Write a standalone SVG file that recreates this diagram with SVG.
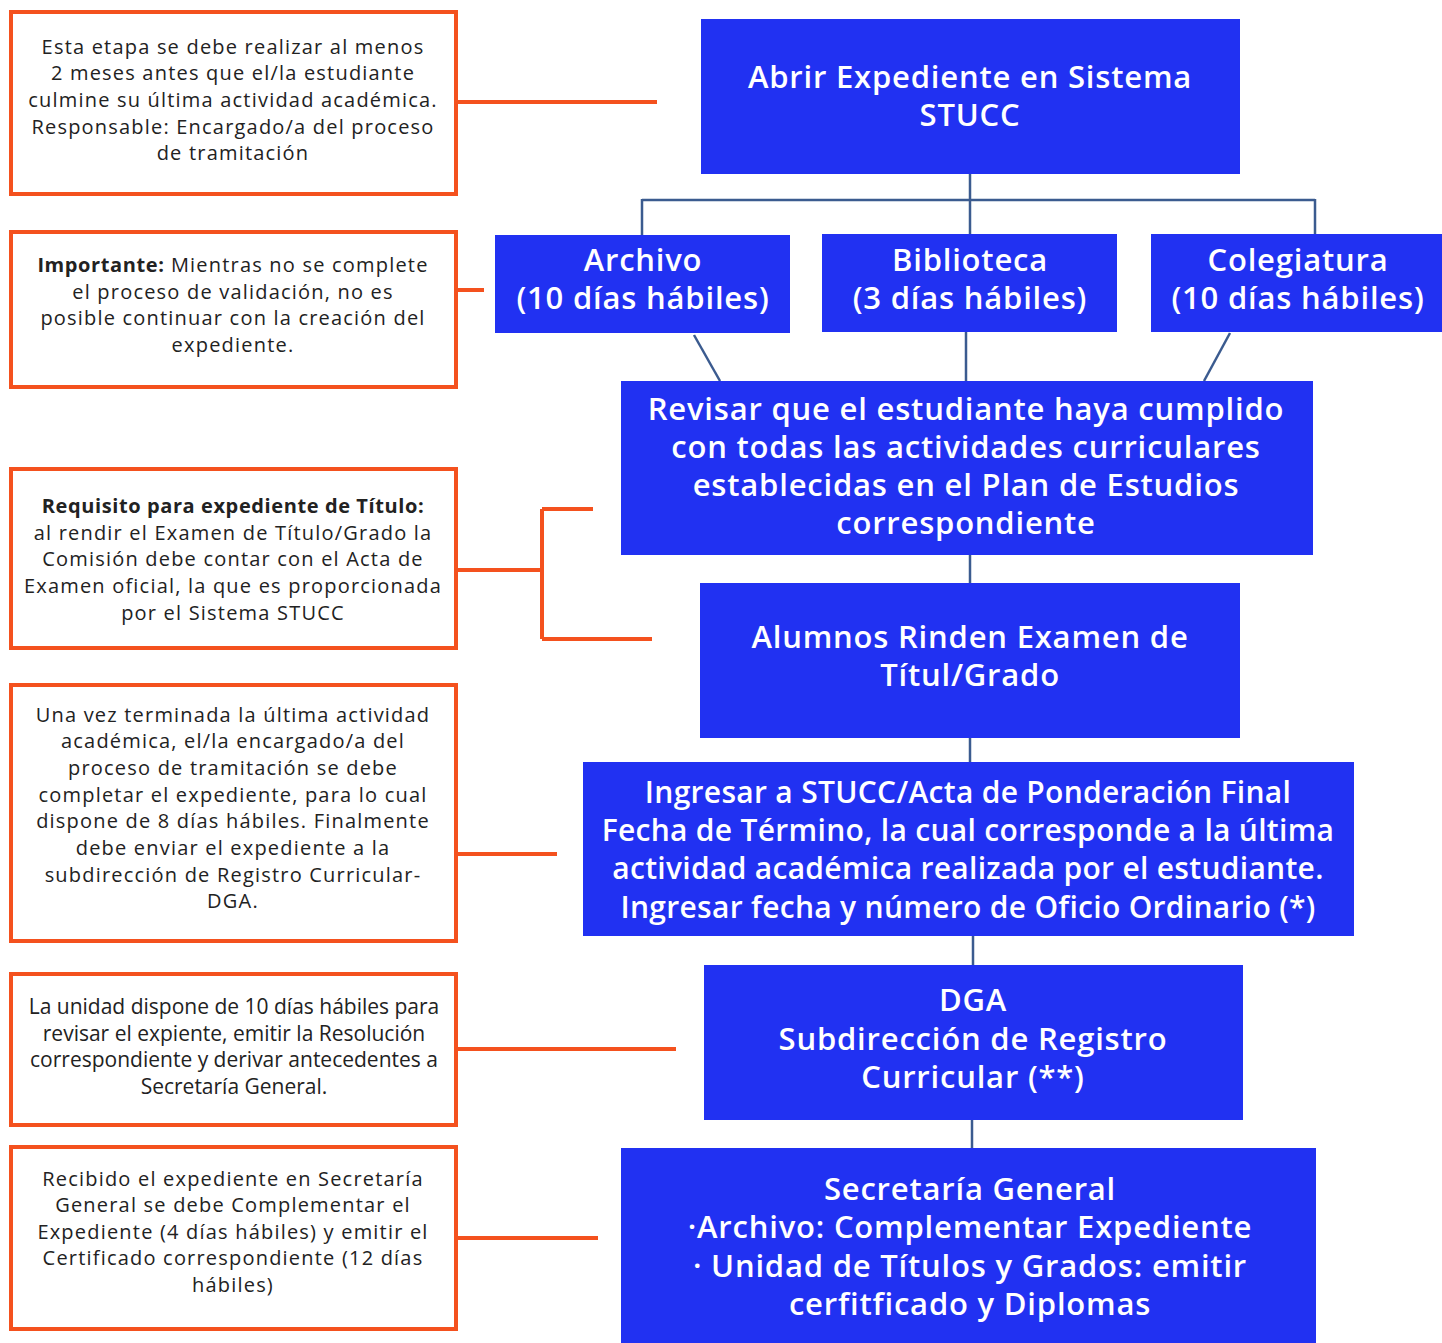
<svg xmlns="http://www.w3.org/2000/svg" width="1442" height="1343" viewBox="0 0 1442 1343">
<style>
.note{fill:#fff;stroke:#F4511E;stroke-width:4}
.nt{font-family:"Open Sans","Liberation Sans",sans-serif;font-size:20px;letter-spacing:1.2px;fill:#222;text-anchor:middle}
.nt .b{font-weight:700;letter-spacing:0.6px}
.nt5{font-family:"Open Sans","Liberation Sans",sans-serif;font-size:21px;letter-spacing:0px;fill:#222;text-anchor:middle}
.node{fill:#2131F2}
.ntx{font-family:"Open Sans","Liberation Sans",sans-serif;font-size:31px;font-weight:600;letter-spacing:0.8px;fill:#fff;text-anchor:middle}
.ntx7{font-family:"Open Sans","Liberation Sans",sans-serif;font-size:30px;font-weight:600;letter-spacing:0.3px;fill:#fff;text-anchor:middle}
.oc{stroke:#F4511E;stroke-width:4;fill:none}
.bc{stroke:#3B5B8F;stroke-width:2.5;fill:none}
</style>
<rect width="1442" height="1343" fill="#fff"/>
<g id="connectors">
<path class="oc" d="M457 102H657"/>
<path class="oc" d="M457 290H484"/>
<path class="oc" d="M457 570H542M542 509V639M542 509H593M542 639H652"/>
<path class="oc" d="M457 854H557"/>
<path class="oc" d="M457 1049H676"/>
<path class="oc" d="M457 1238H598"/>
<path class="bc" d="M970 174V200M642 200H1315M642 199V235M970 200V234M1315 199V234"/>
<path class="bc" d="M694 335L720 381"/>
<path class="bc" d="M966 332V381"/>
<path class="bc" d="M1230 333L1204 381"/>
<path class="bc" d="M970 555V583"/>
<path class="bc" d="M970 738V762"/>
<path class="bc" d="M973 936V965"/>
<path class="bc" d="M972 1120V1148"/>
</g>
<g id="note1">
<rect class="note" x="11" y="12" width="445" height="182"/>
<text class="nt"><tspan x="233" y="54">Esta etapa se debe realizar al menos</tspan><tspan x="233" y="80">2 meses antes que el/la estudiante</tspan><tspan x="233" y="107">culmine su última actividad académica.</tspan><tspan x="233" y="134">Responsable: Encargado/a del proceso</tspan><tspan x="233" y="160">de tramitación</tspan></text>
</g>
<g id="note2">
<rect class="note" x="11" y="232" width="445" height="155"/>
<text class="nt"><tspan x="233" y="272"><tspan class="b">Importante:</tspan> Mientras no se complete</tspan><tspan x="233" y="299">el proceso de validación, no es</tspan><tspan x="233" y="325">posible continuar con la creación del</tspan><tspan x="233" y="352">expediente.</tspan></text>
</g>
<g id="note3">
<rect class="note" x="11" y="469" width="445" height="179"/>
<text class="nt"><tspan x="233" y="513" class="b">Requisito para expediente de Título:</tspan><tspan x="233" y="540">al rendir el Examen de Título/Grado la</tspan><tspan x="233" y="566">Comisión debe contar con el Acta de</tspan><tspan x="233" y="593">Examen oficial, la que es proporcionada</tspan><tspan x="233" y="620">por el Sistema STUCC</tspan></text>
</g>
<g id="note4">
<rect class="note" x="11" y="685" width="445" height="256"/>
<text class="nt"><tspan x="233" y="722">Una vez terminada la última actividad</tspan><tspan x="233" y="748">académica, el/la encargado/a del</tspan><tspan x="233" y="775">proceso de tramitación se debe</tspan><tspan x="233" y="802">completar el expediente, para lo cual</tspan><tspan x="233" y="828">dispone de 8 días hábiles. Finalmente</tspan><tspan x="233" y="855">debe enviar el expediente a la</tspan><tspan x="233" y="882">subdirección de Registro Curricular-</tspan><tspan x="233" y="908">DGA.</tspan></text>
</g>
<g id="note5">
<rect class="note" x="11" y="974" width="445" height="151"/>
<text class="nt5"><tspan x="234" y="1014">La unidad dispone de 10 días hábiles para</tspan><tspan x="234" y="1041">revisar el expiente, emitir la Resolución</tspan><tspan x="234" y="1067">correspondiente y derivar antecedentes a</tspan><tspan x="234" y="1094">Secretaría General.</tspan></text>
</g>
<g id="note6">
<rect class="note" x="11" y="1147" width="445" height="182"/>
<text class="nt"><tspan x="233" y="1186">Recibido el expediente en Secretaría</tspan><tspan x="233" y="1212">General se debe Complementar el</tspan><tspan x="233" y="1239">Expediente (4 días hábiles) y emitir el</tspan><tspan x="233" y="1265">Certificado correspondiente (12 días</tspan><tspan x="233" y="1292">hábiles)</tspan></text>
</g>
<g id="n1">
<rect class="node" x="701" y="19" width="539" height="155"/>
<text class="ntx"><tspan x="970" y="88">Abrir Expediente en Sistema</tspan><tspan x="970" y="126">STUCC</tspan></text>
</g>
<g id="n2">
<rect class="node" x="495" y="235" width="295" height="98"/>
<text class="ntx"><tspan x="643" y="271">Archivo</tspan><tspan x="643" y="309">(10 días hábiles)</tspan></text>
</g>
<g id="n3">
<rect class="node" x="822" y="234" width="295" height="98"/>
<text class="ntx"><tspan x="970" y="271">Biblioteca</tspan><tspan x="970" y="309">(3 días hábiles)</tspan></text>
</g>
<g id="n4">
<rect class="node" x="1151" y="234" width="291" height="98"/>
<text class="ntx"><tspan x="1298" y="271">Colegiatura</tspan><tspan x="1298" y="309">(10 días hábiles)</tspan></text>
</g>
<g id="n5">
<rect class="node" x="621" y="381" width="692" height="174"/>
<text class="ntx"><tspan x="966" y="420">Revisar que el estudiante haya cumplido</tspan><tspan x="966" y="458">con todas las actividades curriculares</tspan><tspan x="966" y="496">establecidas en el Plan de Estudios</tspan><tspan x="966" y="534">correspondiente</tspan></text>
</g>
<g id="n6">
<rect class="node" x="700" y="583" width="540" height="155"/>
<text class="ntx"><tspan x="970" y="648">Alumnos Rinden Examen de</tspan><tspan x="970" y="686">Títul/Grado</tspan></text>
</g>
<g id="n7">
<rect class="node" x="583" y="762" width="771" height="174"/>
<text class="ntx7"><tspan x="968" y="803">Ingresar a STUCC/Acta de Ponderación Final</tspan><tspan x="968" y="841">Fecha de Término, la cual corresponde a la última</tspan><tspan x="968" y="879">actividad académica realizada por el estudiante.</tspan><tspan x="968" y="918">Ingresar fecha y número de Oficio Ordinario (*)</tspan></text>
</g>
<g id="n8">
<rect class="node" x="704" y="965" width="539" height="155"/>
<text class="ntx"><tspan x="973" y="1011">DGA</tspan><tspan x="973" y="1050">Subdirección de Registro</tspan><tspan x="973" y="1088">Curricular (**)</tspan></text>
</g>
<g id="n9">
<rect class="node" x="621" y="1148" width="695" height="195"/>
<text class="ntx"><tspan x="970" y="1200">Secretaría General</tspan><tspan x="970" y="1238">·Archivo: Complementar Expediente</tspan><tspan x="970" y="1277">· Unidad de Títulos y Grados: emitir</tspan><tspan x="970" y="1315">cerfitficado y Diplomas</tspan></text>
</g>
</svg>
